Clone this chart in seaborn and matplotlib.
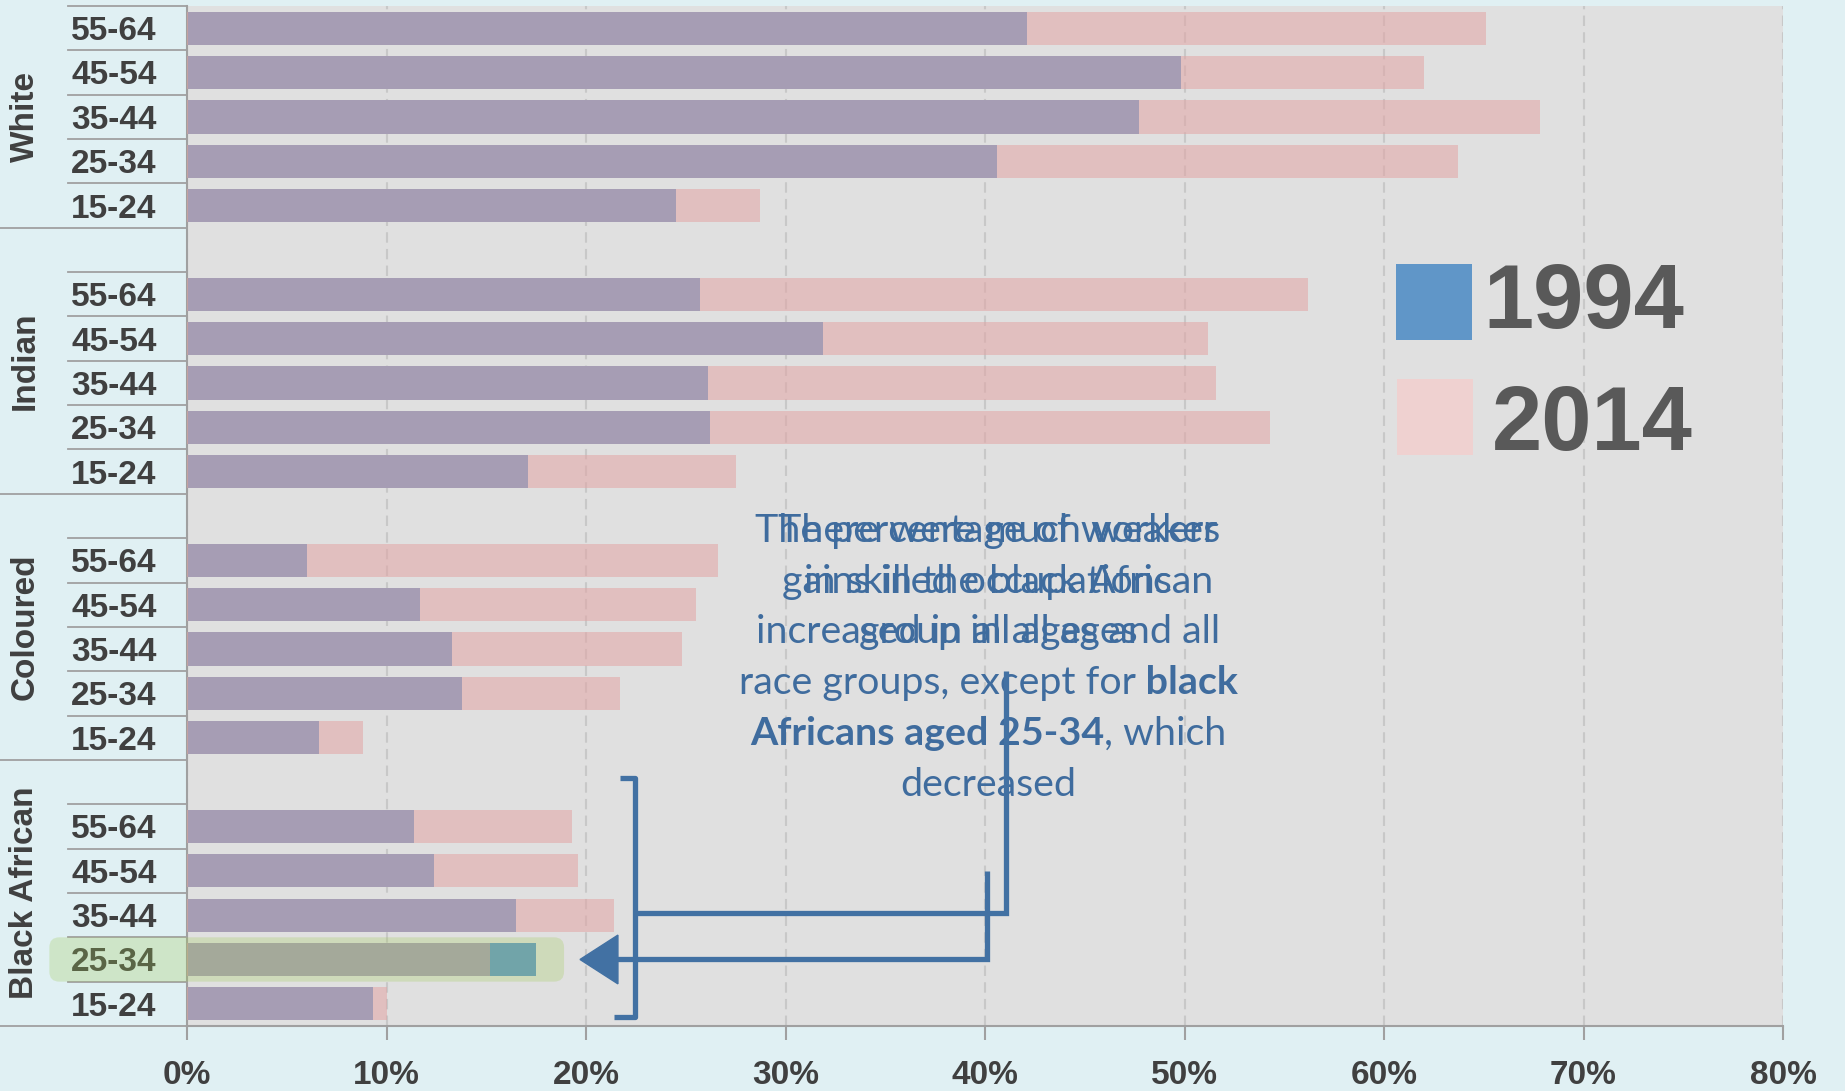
import matplotlib
matplotlib.use("Agg")
import matplotlib.pyplot as plt
import seaborn as sns
import pandas as pd
from matplotlib.patches import FancyBboxPatch, Rectangle, Polygon
from matplotlib.transforms import IdentityTransform

# ---------------- data ----------------
races = ["White", "Indian", "Coloured", "Black African"]
ages = ["55-64", "45-54", "35-44", "25-34", "15-24"]
white_1994 = [42.1, 49.8, 47.7, 40.6, 24.5]
white_2014 = [65.1, 62.0, 67.8, 63.7, 28.7]
indian_1994 = [25.7, 31.9, 26.1, 26.2, 17.1]
indian_2014 = [56.2, 51.2, 51.6, 54.3, 27.5]
coloured_1994 = [6.0, 11.7, 13.3, 13.8, 6.6]
coloured_2014 = [26.6, 25.5, 24.8, 21.7, 8.8]
black_1994 = [11.4, 12.4, 16.5, 17.5, 9.3]
black_2014 = [19.3, 19.6, 21.4, 15.2, 10.0]
years = ["1994", "2014"]
x_ticks = [0, 10, 20, 30, 40, 50, 60, 70, 80]
x_tick_labels = [f"{v}%" for v in x_ticks]

vals_1994 = [white_1994, indian_1994, coloured_1994, black_1994]
vals_2014 = [white_2014, indian_2014, coloured_2014, black_2014]

rows = []
order = []
for i, race in enumerate(races):
    if i > 0:
        order.append(f"gap{i}")
    for j, age in enumerate(ages):
        key = f"{race}|{age}"
        order.append(key)
        rows.append({"key": key, "race": race, "age": age,
                     "v1994": vals_1994[i][j], "v2014": vals_2014[i][j]})
df = pd.DataFrame(rows)

# ---------------- style ----------------
W, H = 1845, 1091
BG = "#E0F0F3"
PLOT_BG = "#E0E0E0"
BLUE = "#6096C8"
PINK = "#E2A3A3"
PINK_LEG = "#EFD1D0"
GRID = "#C8C8C8"
AXC = "#A0A0A0"
TXT = "#404040"
ANN = "#3F6C9E"
LINEC = "#4271A3"
HL = "#A1CA57"
LAB_FONT = "Liberation Sans"

fig = plt.figure(figsize=(W / 100, H / 100), dpi=100, facecolor=BG)
ax = fig.add_axes([187 / W, 65 / H, 1596 / W, 1020 / H])
ax.set_facecolor(PLOT_BG)

sns.barplot(data=df, x="v1994", y="key", order=order, color=BLUE, saturation=1,
            width=0.75, errorbar=None, linewidth=0, ax=ax, zorder=2)
sns.barplot(data=df, x="v2014", y="key", order=order, color=PINK, saturation=1,
            width=0.75, errorbar=None, linewidth=0, alpha=0.54, ax=ax, zorder=3)

ax.set_xlim(0, 80)
ax.set_ylim(len(order) - 0.5, -0.5)
ax.set_xlabel("")
ax.set_ylabel("")
ax.set_yticks([])
ax.set_xticks(x_ticks)
ax.set_xticklabels(x_tick_labels, fontsize=24, fontweight="bold", color=TXT,
                   family=LAB_FONT)
ax.tick_params(axis="x", length=10, width=1.5, color=AXC, pad=14.5)
ax.grid(axis="x", color=GRID, linestyle=(0, (5, 3)), linewidth=1.5)
ax.grid(axis="y", visible=False)
ax.set_axisbelow(True)
for s in ["top", "right"]:
    ax.spines[s].set_visible(False)
for s in ["left", "bottom"]:
    ax.spines[s].set_color(AXC)
    ax.spines[s].set_linewidth(1.5)

# ---------------- left label table ----------------
yt = ax.get_yaxis_transform()
age_x = (114 - 187) / 1596
race_x = (25 - 187) / 1596
short_x0 = (68 - 187) / 1596
long_x0 = -187 / 1596
for idx, key in enumerate(order):
    if key.startswith("gap"):
        continue
    race, age = key.split("|")
    ax.text(age_x, idx + 0.27, age, transform=yt, ha="center", va="baseline",
            fontsize=24, fontweight="bold", color=TXT, family=LAB_FONT, clip_on=False)
# separators
ax.plot([short_x0, 0], [-0.5, -0.5], transform=yt, color=AXC, lw=1.3, clip_on=False)
for idx, key in enumerate(order):
    b = idx + 0.5
    nxt = order[idx + 1] if idx + 1 < len(order) else None
    if nxt is None or nxt.startswith("gap"):
        ax.plot([long_x0, 0], [b, b], transform=yt, color=AXC, lw=1.3, clip_on=False)
    else:
        ax.plot([short_x0, 0], [b, b], transform=yt, color=AXC, lw=1.3, clip_on=False)
# race labels
for i, race in enumerate(races):
    first = order.index(f"{race}|{ages[0]}")
    last = order.index(f"{race}|{ages[-1]}")
    top = first - 1 if i > 0 else first
    ax.text(race_x, (top + last) / 2, race, transform=yt, rotation=90, ha="center",
            va="center", fontsize=24, fontweight="bold", color=TXT, family=LAB_FONT,
            clip_on=False)

# ---------------- annotation lines ----------------
lw_ann = 3.8
# bracket
ax.plot([21.7, 22.46, 22.46, 21.4], [16.9, 16.9, 22.3, 22.3], color=LINEC, lw=lw_ann,
        clip_on=False, zorder=6, solid_joinstyle="round", solid_capstyle="butt")
# connector from text to bracket
ax.plot([41.05, 41.05, 22.46], [14.5, 19.95, 19.95], color=LINEC, lw=lw_ann,
        clip_on=False, zorder=6, solid_joinstyle="miter", solid_capstyle="butt")
# arrow to the highlighted bar
hl_row = order.index("Black African|25-34")
ax.plot([40.1, 40.1, 21.4], [19.0, hl_row, hl_row], color=LINEC, lw=lw_ann,
        clip_on=False, zorder=6, solid_joinstyle="miter", solid_capstyle="butt")
ax.add_patch(Polygon([[19.7, hl_row], [21.6, hl_row - 0.55], [21.6, hl_row + 0.55]],
                     closed=True, color=LINEC, zorder=6, clip_on=False))

# ---------------- annotation text ----------------
renderer = fig.canvas.get_renderer()
ANN_FONT = ["Lato", "DejaVu Sans"]


def measure(segs, size):
    tot = 0
    for s, w in segs:
        t = ax.text(0, 0, s, fontsize=size, fontweight=w, family=ANN_FONT)
        tot += t.get_window_extent(renderer).width
        t.remove()
    return tot


linesA = [
    [("The percentage of workers", "normal")],
    [("in skilled occupations", "normal")],
    [("increased in all ages and all", "normal")],
    [("race groups, except for", "normal"), (" black", "bold")],
    [("Africans aged 25-34", "bold"), (", which", "normal")],
    [("decreased", "normal")],
]
linesB = [
    [("There were much weaker", "normal")],
    [("gains in the black African", "normal")],
    [("group in all ages", "normal")],
]
base_size = 26
w_ref = measure(linesA[3], base_size)
fs = base_size * 499 / w_ref


def draw_line(segs, cx, ybase, color, z):
    widths = []
    texts = []
    for s, w in segs:
        t = ax.text(0, 0, s, fontsize=fs, fontweight=w, family=ANN_FONT, color=color,
                    transform=IdentityTransform(), ha="left", va="baseline",
                    zorder=z, clip_on=False)
        widths.append(t.get_window_extent(renderer).width)
        texts.append(t)
    x = cx - sum(widths) / 2
    for t, wd in zip(texts, widths):
        t.set_position((x, H - ybase))
        x += wd


base0, pitch = 542, 50.7
for k, segs in enumerate(linesA):
    draw_line(segs, 988, base0 + k * pitch, ANN, 4)
for k, segs in enumerate(linesB):
    draw_line(segs, 998, base0 + k * pitch, ANN, 4)

# ---------------- highlight box ----------------
p0 = ax.transData.transform((-6.9, hl_row + 0.5))
p1 = ax.transData.transform((18.9, hl_row - 0.5))
hl = FancyBboxPatch((p0[0], p0[1]), p1[0] - p0[0], p1[1] - p0[1],
                    boxstyle="round,pad=0,rounding_size=10", transform=IdentityTransform(),
                    facecolor=HL, edgecolor="none", alpha=0.27, zorder=5)
fig.add_artist(hl)

# ---------------- legend ----------------
leg_items = [(BLUE, years[0], 264, 1396, 1483, 328), (PINK_LEG, years[1], 379, 1397, 1492, 450)]
for col, lab, ytop, xsq, xt, ybase in leg_items:
    fig.add_artist(Rectangle((xsq / W, 1 - (ytop + 76) / H), 76 / W, 76 / H,
                             transform=fig.transFigure, facecolor=col, edgecolor="none"))
    fig.text(xt / W, 1 - ybase / H, lab, fontsize=65, fontweight="bold", color="#595959",
             family=LAB_FONT, ha="left", va="baseline")

fig.savefig("out.png", dpi=100, facecolor=BG)
